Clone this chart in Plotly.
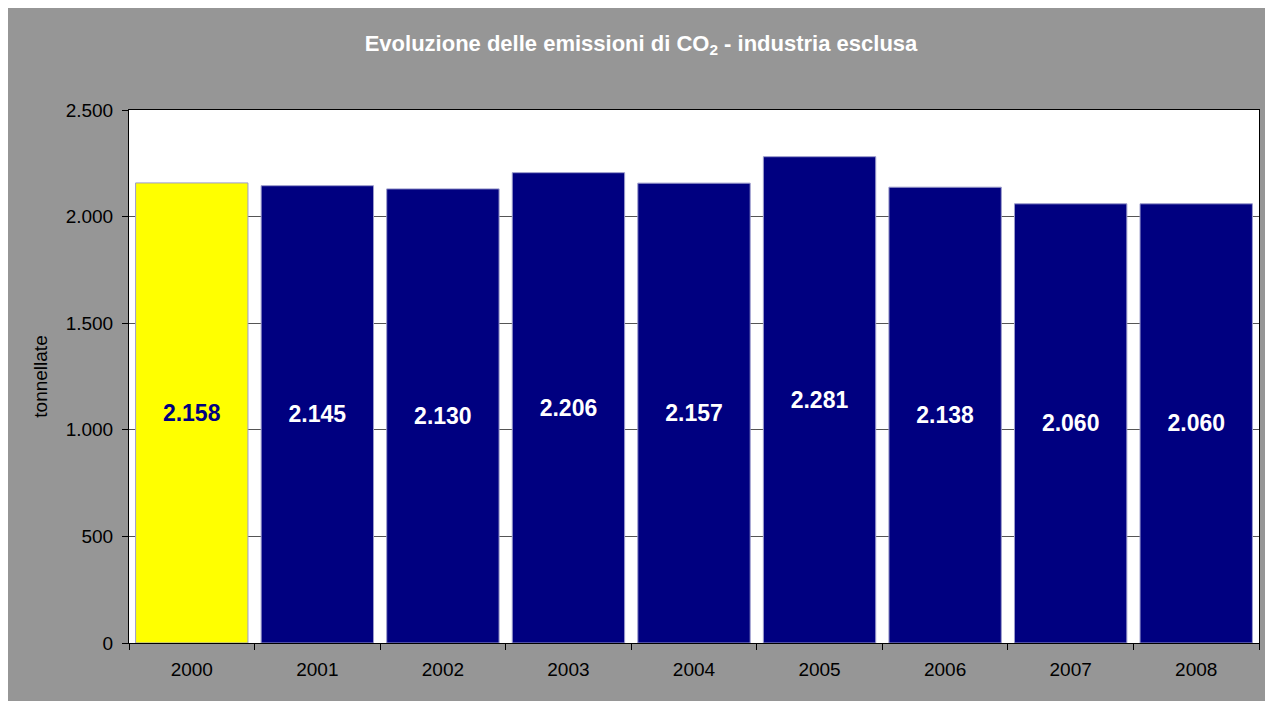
import plotly.graph_objects as go

years = ["2000", "2001", "2002", "2003", "2004", "2005", "2006", "2007", "2008"]
emissions = [2158, 2145, 2130, 2206, 2157, 2281, 2138, 2060, 2060]
bar_colors = ["#FFFF00"] + ["#000080"] * 8
label_colors = ["#000080"] + ["#FFFFFF"] * 8

FONT = "Liberation Sans, Arial, sans-serif"

fig = go.Figure()
fig.add_trace(go.Bar(
    x=years, y=emissions,
    marker=dict(color=bar_colors, line=dict(color="#9c9ccc", width=1)),
    texttemplate="<b>%{y:,d}</b>",
    textposition="inside",
    insidetextanchor="middle",
    textangle=0,
    textfont=dict(family=FONT, size=23, color=label_colors),
    hoverinfo="skip",
))

fig.update_layout(
    width=1273, height=701,
    separators=",.",
    paper_bgcolor="#969696",
    plot_bgcolor="#FFFFFF",
    margin=dict(l=121, r=22, t=102, b=66),
    bargap=0.105,
    showlegend=False,
    font=dict(family=FONT, size=19, color="#000000"),
    title=dict(
        text="<b>Evoluzione delle emissioni di CO<sub>2</sub> - industria esclusa</b>",
        x=(641 - 8) / 1273, xref="container", xanchor="center",
        y=1 - 35 / 701, yref="container", yanchor="middle",
        font=dict(family=FONT, size=22, color="#FFFFFF"),
    ),
    xaxis=dict(
        type="category",
        showline=True, linecolor="#000000", linewidth=1, mirror=True,
        ticks="outside", ticklen=6, tickcolor="#000000", tickson="boundaries",
        ticklabelstandoff=9,
        showgrid=False,
        tickfont=dict(size=19, color="#000000"),
    ),
    yaxis=dict(
        range=[0, 2500],
        tickvals=[0, 500, 1000, 1500, 2000, 2500],
        tickformat=",d",
        showline=True, linecolor="#000000", linewidth=1, mirror=True,
        ticks="outside", ticklen=6, tickcolor="#000000",
        ticklabelstandoff=5,
        showgrid=True, gridcolor="#555555", gridwidth=1,
        zeroline=False,
        tickfont=dict(size=19, color="#000000"),
        title=dict(text="tonnellate", standoff=13, font=dict(size=19, color="#000000")),
    ),
)

fig.write_html("out.html")
